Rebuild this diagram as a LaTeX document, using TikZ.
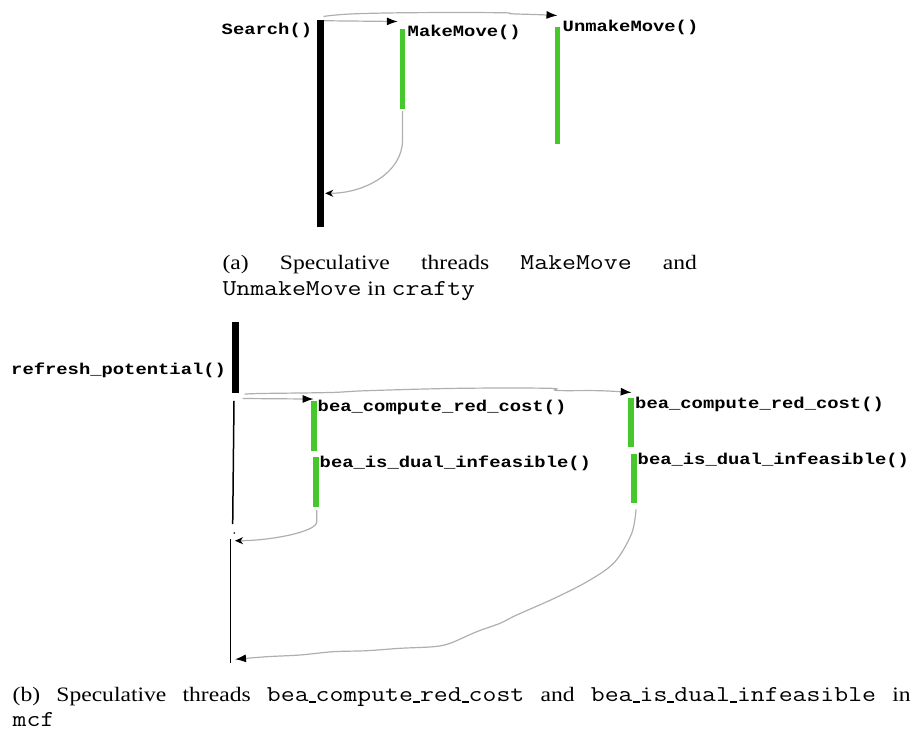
\documentclass[tikz,border=0pt]{standalone}
\usepackage{fontspec}
\setmainfont{Liberation Serif}
\newfontfamily\capserif[FakeStretch=1.15]{Liberation Serif}
\newfontfamily\capmono[FakeStretch=1.19,Scale=1.107]{Latin Modern Mono}
\newfontfamily\lblmono[FakeStretch=1.2]{Liberation Mono}
\usetikzlibrary{arrows.meta}
\definecolor{threadgreen}{RGB}{70,200,45}
\definecolor{wire}{RGB}{175,175,175}
% low bar used for underscores in the sub-captions
\newcommand\capus{\rule[-1pt]{7pt}{2.2pt}}

\begin{document}
\begin{tikzpicture}[x=1pt,y=1pt,
  mainbar/.style={fill=black, draw=none, inner sep=0pt, minimum width=7pt},
  specbar/.style={fill=threadgreen, draw=none, inner sep=0pt, minimum width=5.7pt},
  fnlabel/.style={anchor=base west, inner sep=0pt,
    font=\fontsize{15.7}{18}\selectfont\lblmono\bfseries},
  call/.style={draw=wire, line width=1.2pt,
    -{Latex[length=11pt,width=8pt,color=black]}},
  ret/.style={draw=wire, line width=1.2pt,
    -{Stealth[length=8pt,width=7pt,inset=2.5pt,color=black]}},
  threadline/.style={draw=black, line width=1.5pt},
  subcap/.style={anchor=base west, inner sep=0pt, align=justify}]
\useasboundingbox (0,0) rectangle (915,-734);

% ---------- (a) crafty ----------
\node[mainbar, minimum width=7pt, minimum height=206.7pt] (search) at (320.5,-123.3) {};
\node[specbar, minimum width=5pt, minimum height=80pt] (mm) at (402.5,-69.3) {};
\node[specbar, minimum width=5pt, minimum height=116.7pt] (umm) at (557.5,-85.7) {};

\node[fnlabel] (searchlbl) at (221.5,-34) {Search()};
\node[fnlabel] (mmlbl) at (407.5,-36) {MakeMove()};
\node[fnlabel] (ummlbl) at (562.5,-31.7) {UnmakeMove()};

\draw[call] ([yshift=-1pt]search.north east) -- ([xshift=-2pt,yshift=7.6pt]mm.north west);
\draw[call] plot[smooth, tension=0.6] coordinates {([xshift=-0.7pt,yshift=3.3pt]search.north east)
  (350,-14) (410,-12.7) (500,-12.7) (512,-13.8) (540,-14.7) ([yshift=11.6pt]umm.north)};
\draw[ret] ([yshift=-1.7pt]mm.south) -- ++(0,-29)
  .. controls +(0,-32) and +(40,0) .. ([xshift=1pt,yshift=-70pt]search.east);

\node[subcap, text width=474.5pt, font=\fontsize{20.5}{26.7}\selectfont\capserif] (capa) at (222.3,-269)
  {(a) Speculative threads {\capmono MakeMove} and\linebreak {\capmono UnmakeMove} in {\capmono crafty}};

% ---------- (b) mcf ----------
\node[mainbar, minimum width=6.7pt, minimum height=71.6pt] (refresh) at (235.7,-357.5) {};
\node[specbar, minimum width=6pt, minimum height=49.7pt] (g1) at (313.7,-425.8) {};
\node[specbar, minimum width=6.3pt, minimum height=50pt] (g2) at (315.8,-481.7) {};
\node[specbar, minimum width=5.7pt, minimum height=49pt] (g3) at (631.2,-422.2) {};
\node[specbar, minimum width=6pt, minimum height=48.7pt] (g4) at (633.7,-478.3) {};

\node[fnlabel] (reflbl) at (11,-374) {refresh\_potential()};
\node[fnlabel] (g1lbl) at (317.5,-411.7) {bea\_compute\_red\_cost()};
\node[fnlabel] (g2lbl) at (319.5,-467.7) {bea\_is\_dual\_infeasible()};
\node[fnlabel] (g3lbl) at (635,-408.3) {bea\_compute\_red\_cost()};
\node[fnlabel] (g4lbl) at (637.5,-464.3) {bea\_is\_dual\_infeasible()};

% main thread continuing below refresh_potential()
\coordinate (join) at (232.7,-524);
\node[circle, fill=black, inner sep=0pt, minimum size=1.8pt] (resume) at (234.3,-533) {};
\coordinate (resumetop) at (230.7,-539.3);
\coordinate (threadend) at (230.7,-663.3);
\draw[threadline] ([xshift=-1.7pt,yshift=-7.4pt]refresh.south) -- (join);
\draw[threadline] (resumetop) -- (threadend);

\draw[call] ([xshift=3.3pt,yshift=-5pt]refresh.south east) -- ([yshift=1.7pt]g1.north);
\draw[call] plot[smooth, tension=0.6] coordinates {([xshift=5.3pt,yshift=-0.7pt]refresh.south east)
  (260,-393.5) (330,-392.5) (366.7,-390.7) (460,-388.3) (550,-388.3) (557,-390.5) (600,-390.7)
  ([xshift=0.5pt,yshift=5pt]g3.north)};
\draw[ret] ([xshift=0.9pt,yshift=-3.3pt]g2.south) -- ++(0,-11.7)
  .. controls +(0,-10) and +(35,0) .. ([xshift=4.3pt,yshift=-1.4pt]resumetop);
\draw[call] plot[smooth, tension=0.55] coordinates {([xshift=2.3pt,yshift=-6.6pt]g4.south)
  (631.7,-533.3) (615,-561.7) (590,-580) (555,-598) (516.7,-615) (500,-623.3)
  (476.7,-631.7) (450,-643.3) (433.3,-646.7) (400,-648.3) (366.7,-650.7) (333,-651.7)
  (300,-655) (266.7,-656.7) ([xshift=4.3pt,yshift=4pt]threadend)};

\node[subcap, text width=898pt, font=\fontsize{20.5}{25}\selectfont\capserif] (capb) at (12.5,-701.7)
  {(b) Speculative threads {\capmono bea\capus compute\capus red\capus cost} and
   {\capmono bea\capus is\capus dual\capus infeasible} in\linebreak {\capmono mcf}};
\end{tikzpicture}
\end{document}
